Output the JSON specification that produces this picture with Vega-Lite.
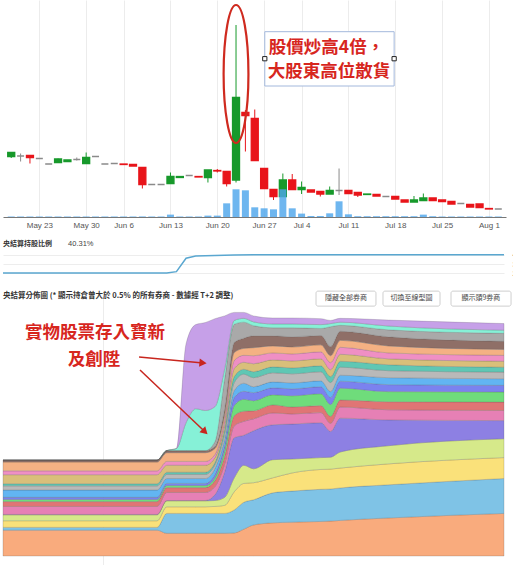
{
  "$schema": "https://vega.github.io/schema/vega-lite/v6.json",
  "padding": 0,
  "spacing": 0,
  "bounds": "flush",
  "resolve": {"scale": {"color": "independent", "stroke": "independent"}},
  "config": {"view": {"stroke": null}, "font": "Liberation Sans", "axis": {"labelFont": "Liberation Sans", "title": null}},
  "datasets": {
    "candles": [
      {"t":0,"date":"2022-05-18","o":0.151,"h":0.160,"l":0.148,"c":0.159,"v":0.7,"dir":"up"},
      {"t":1,"date":"2022-05-19","o":0.152,"h":0.157,"l":0.141,"c":0.152,"v":0.7,"dir":"flat"},
      {"t":2,"date":"2022-05-20","o":0.153,"h":0.153,"l":0.137,"c":0.149,"v":0.7,"dir":"down"},
      {"t":3,"date":"2022-05-23","o":0.147,"h":0.148,"l":0.146,"c":0.147,"v":0.7,"dir":"flat"},
      {"t":4,"date":"2022-05-24","o":0.136,"h":0.136,"l":0.136,"c":0.136,"v":0.7,"dir":"flat"},
      {"t":5,"date":"2022-05-25","o":0.139,"h":0.147,"l":0.139,"c":0.146,"v":0.7,"dir":"up"},
      {"t":6,"date":"2022-05-26","o":0.141,"h":0.144,"l":0.141,"c":0.144,"v":0.7,"dir":"up"},
      {"t":7,"date":"2022-05-27","o":0.145,"h":0.149,"l":0.143,"c":0.145,"v":0.7,"dir":"flat"},
      {"t":8,"date":"2022-05-30","o":0.137,"h":0.159,"l":0.137,"c":0.149,"v":0.7,"dir":"up"},
      {"t":9,"date":"2022-05-31","o":0.151,"h":0.151,"l":0.151,"c":0.151,"v":0.7,"dir":"flat"},
      {"t":10,"date":"2022-06-01","o":0.136,"h":0.136,"l":0.136,"c":0.136,"v":0.7,"dir":"flat"},
      {"t":11,"date":"2022-06-02","o":0.137,"h":0.137,"l":0.137,"c":0.137,"v":0.7,"dir":"flat"},
      {"t":12,"date":"2022-06-06","o":0.136,"h":0.136,"l":0.135,"c":0.135,"v":0.7,"dir":"down"},
      {"t":13,"date":"2022-06-07","o":0.135,"h":0.135,"l":0.132,"c":0.132,"v":0.7,"dir":"down"},
      {"t":14,"date":"2022-06-08","o":0.129,"h":0.129,"l":0.087,"c":0.095,"v":0.8,"dir":"down"},
      {"t":15,"date":"2022-06-09","o":0.095,"h":0.095,"l":0.095,"c":0.095,"v":0.7,"dir":"flat"},
      {"t":16,"date":"2022-06-10","o":0.095,"h":0.095,"l":0.095,"c":0.095,"v":0.7,"dir":"flat"},
      {"t":17,"date":"2022-06-13","o":0.097,"h":0.119,"l":0.097,"c":0.111,"v":3.3,"dir":"up"},
      {"t":18,"date":"2022-06-14","o":0.109,"h":0.111,"l":0.109,"c":0.111,"v":0.7,"dir":"up"},
      {"t":19,"date":"2022-06-15","o":0.113,"h":0.113,"l":0.113,"c":0.113,"v":0.7,"dir":"flat"},
      {"t":20,"date":"2022-06-16","o":0.111,"h":0.111,"l":0.110,"c":0.110,"v":0.7,"dir":"down"},
      {"t":21,"date":"2022-06-17","o":0.109,"h":0.124,"l":0.099,"c":0.124,"v":1.9,"dir":"up"},
      {"t":22,"date":"2022-06-20","o":0.123,"h":0.126,"l":0.119,"c":0.122,"v":1.9,"dir":"down"},
      {"t":23,"date":"2022-06-21","o":0.121,"h":0.121,"l":0.091,"c":0.097,"v":18.9,"dir":"down"},
      {"t":24,"date":"2022-06-22","o":0.104,"h":0.414,"l":0.099,"c":0.269,"v":38.3,"dir":"up"},
      {"t":25,"date":"2022-06-23","o":0.239,"h":0.244,"l":0.161,"c":0.233,"v":36.9,"dir":"down"},
      {"t":26,"date":"2022-06-24","o":0.227,"h":0.245,"l":0.143,"c":0.143,"v":13.4,"dir":"down"},
      {"t":27,"date":"2022-06-27","o":0.127,"h":0.127,"l":0.087,"c":0.087,"v":12.0,"dir":"down"},
      {"t":28,"date":"2022-06-28","o":0.085,"h":0.085,"l":0.064,"c":0.071,"v":10.6,"dir":"down"},
      {"t":29,"date":"2022-06-29","o":0.071,"h":0.117,"l":0.071,"c":0.104,"v":38.3,"dir":"up"},
      {"t":30,"date":"2022-06-30","o":0.104,"h":0.116,"l":0.085,"c":0.085,"v":12.0,"dir":"down"},
      {"t":31,"date":"2022-07-04","o":0.085,"h":0.101,"l":0.076,"c":0.089,"v":4.7,"dir":"up"},
      {"t":32,"date":"2022-07-05","o":0.084,"h":0.084,"l":0.080,"c":0.080,"v":1.4,"dir":"down"},
      {"t":33,"date":"2022-07-06","o":0.081,"h":0.081,"l":0.071,"c":0.076,"v":1.4,"dir":"down"},
      {"t":34,"date":"2022-07-07","o":0.076,"h":0.091,"l":0.076,"c":0.083,"v":5.1,"dir":"up"},
      {"t":35,"date":"2022-07-08","o":0.083,"h":0.127,"l":0.074,"c":0.083,"v":21.7,"dir":"flat"},
      {"t":36,"date":"2022-07-11","o":0.083,"h":0.083,"l":0.077,"c":0.077,"v":3.7,"dir":"down"},
      {"t":37,"date":"2022-07-12","o":0.079,"h":0.079,"l":0.070,"c":0.074,"v":1.1,"dir":"down"},
      {"t":38,"date":"2022-07-13","o":0.075,"h":0.076,"l":0.075,"c":0.076,"v":1.1,"dir":"up"},
      {"t":39,"date":"2022-07-14","o":0.075,"h":0.075,"l":0.072,"c":0.072,"v":1.1,"dir":"down"},
      {"t":40,"date":"2022-07-15","o":0.071,"h":0.071,"l":0.071,"c":0.071,"v":1.1,"dir":"flat"},
      {"t":41,"date":"2022-07-18","o":0.071,"h":0.071,"l":0.066,"c":0.066,"v":1.1,"dir":"down"},
      {"t":42,"date":"2022-07-19","o":0.064,"h":0.064,"l":0.060,"c":0.060,"v":1.1,"dir":"down"},
      {"t":43,"date":"2022-07-20","o":0.060,"h":0.072,"l":0.060,"c":0.064,"v":1.1,"dir":"up"},
      {"t":44,"date":"2022-07-21","o":0.063,"h":0.077,"l":0.063,"c":0.068,"v":3.3,"dir":"up"},
      {"t":45,"date":"2022-07-22","o":0.068,"h":0.068,"l":0.063,"c":0.063,"v":1.1,"dir":"down"},
      {"t":46,"date":"2022-07-25","o":0.064,"h":0.064,"l":0.061,"c":0.061,"v":0.7,"dir":"down"},
      {"t":47,"date":"2022-07-26","o":0.061,"h":0.061,"l":0.056,"c":0.056,"v":0.7,"dir":"down"},
      {"t":48,"date":"2022-07-27","o":0.057,"h":0.057,"l":0.057,"c":0.057,"v":0.7,"dir":"flat"},
      {"t":49,"date":"2022-07-28","o":0.055,"h":0.055,"l":0.050,"c":0.050,"v":0.7,"dir":"down"},
      {"t":50,"date":"2022-07-29","o":0.056,"h":0.056,"l":0.049,"c":0.049,"v":0.7,"dir":"down"},
      {"t":51,"date":"2022-08-01","o":0.047,"h":0.047,"l":0.046,"c":0.046,"v":0.7,"dir":"down"},
      {"t":52,"date":"2022-08-02","o":0.046,"h":0.046,"l":0.046,"c":0.046,"v":0.7,"dir":"flat"}
    ],
    "ellipse": [{"t":24,"p":0.316}],
    "box": [{"t":27.07,"t2":40.88,"p":0.4006,"p2":0.292}],
    "boxtext": [{"t":33.66,"p":0.368,"txt":"股價炒高4倍，"},{"t":33.92,"p":0.3206,"txt":"大股東高位散貨"}],
    "handles": [{"t":27.07,"p":0.3466},{"t":40.88,"p":0.3466}],
    "hold": [
      {"d":0,"pct":20.3},{"d":17,"pct":20.3},{"d":18,"pct":21.8},{"d":19,"pct":36.5},{"d":20,"pct":38.8},
      {"d":22,"pct":39.4},{"d":24,"pct":40.0},{"d":26,"pct":40.31},{"d":52,"pct":40.31}
    ],
    "holdlabel": [{"d":0,"pct":51.5,"txt":"央結算持股比例"}],
    "holdvalue": [{"d":6.75,"pct":51.5,"txt":"40.31%"}],
    "ccass": [
      {"d":0,"b":"b01","s":0.74},{"d":0,"b":"b02","s":0.08},{"d":0,"b":"b03","s":0.19},{"d":0,"b":"b04","s":0.17},{"d":0,"b":"b05","s":0.01},{"d":0,"b":"b06","s":0.23},{"d":0,"b":"b07","s":0.14},{"d":0,"b":"b08","s":0.06},{"d":0,"b":"b09","s":0.06},{"d":0,"b":"b10","s":0.21},{"d":0,"b":"b11","s":0.12},{"d":0,"b":"b12","s":0.06},{"d":0,"b":"b13","s":0.26},{"d":0,"b":"b14","s":0.11},{"d":0,"b":"b15","s":0.25},{"d":0,"b":"b16","s":0.06},{"d":0,"b":"b17","s":0},{"d":0,"b":"b18","s":0},{"d":0,"b":"b19","s":0},
      {"d":16,"b":"b01","s":0.74},{"d":16,"b":"b02","s":0.08},{"d":16,"b":"b03","s":0.19},{"d":16,"b":"b04","s":0.17},{"d":16,"b":"b05","s":0.01},{"d":16,"b":"b06","s":0.23},{"d":16,"b":"b07","s":0.14},{"d":16,"b":"b08","s":0.06},{"d":16,"b":"b09","s":0.06},{"d":16,"b":"b10","s":0.21},{"d":16,"b":"b11","s":0.12},{"d":16,"b":"b12","s":0.06},{"d":16,"b":"b13","s":0.26},{"d":16,"b":"b14","s":0.11},{"d":16,"b":"b15","s":0.25},{"d":16,"b":"b16","s":0.06},{"d":16,"b":"b17","s":0},{"d":16,"b":"b18","s":0},{"d":16,"b":"b19","s":0},
      {"d":17,"b":"b01","s":0.65},{"d":17,"b":"b02","s":0.57},{"d":17,"b":"b03","s":0.19},{"d":17,"b":"b04","s":0.17},{"d":17,"b":"b05","s":0.01},{"d":17,"b":"b06","s":0.23},{"d":17,"b":"b07","s":0.14},{"d":17,"b":"b08","s":0.06},{"d":17,"b":"b09","s":0.06},{"d":17,"b":"b10","s":0.14},{"d":17,"b":"b11","s":0.12},{"d":17,"b":"b12","s":0.06},{"d":17,"b":"b13","s":0.20},{"d":17,"b":"b14","s":0.11},{"d":17,"b":"b15","s":0.25},{"d":17,"b":"b16","s":0.06},{"d":17,"b":"b17","s":0},{"d":17,"b":"b18","s":0},{"d":17,"b":"b19","s":0},
      {"d":18,"b":"b01","s":0.65},{"d":18,"b":"b02","s":0.57},{"d":18,"b":"b03","s":0.19},{"d":18,"b":"b04","s":0.17},{"d":18,"b":"b05","s":0.01},{"d":18,"b":"b06","s":0.23},{"d":18,"b":"b07","s":0.14},{"d":18,"b":"b08","s":0.06},{"d":18,"b":"b09","s":0.06},{"d":18,"b":"b10","s":0.14},{"d":18,"b":"b11","s":0.12},{"d":18,"b":"b12","s":0.06},{"d":18,"b":"b13","s":0.20},{"d":18,"b":"b14","s":0.11},{"d":18,"b":"b15","s":0.25},{"d":18,"b":"b16","s":0.06},{"d":18,"b":"b17","s":0},{"d":18,"b":"b18","s":0.06},{"d":18,"b":"b19","s":0},
      {"d":19,"b":"b01","s":0.65},{"d":19,"b":"b02","s":0.57},{"d":19,"b":"b03","s":0.19},{"d":19,"b":"b04","s":0.17},{"d":19,"b":"b05","s":0.01},{"d":19,"b":"b06","s":0.23},{"d":19,"b":"b07","s":0.14},{"d":19,"b":"b08","s":0.06},{"d":19,"b":"b09","s":0.06},{"d":19,"b":"b10","s":0.14},{"d":19,"b":"b11","s":0.12},{"d":19,"b":"b12","s":0.06},{"d":19,"b":"b13","s":0.20},{"d":19,"b":"b14","s":0.11},{"d":19,"b":"b15","s":0.25},{"d":19,"b":"b16","s":0.06},{"d":19,"b":"b17","s":0},{"d":19,"b":"b18","s":0.80},{"d":19,"b":"b19","s":2.26},
      {"d":20,"b":"b01","s":0.65},{"d":20,"b":"b02","s":0.57},{"d":20,"b":"b03","s":0.19},{"d":20,"b":"b04","s":0.17},{"d":20,"b":"b05","s":0.01},{"d":20,"b":"b06","s":0.23},{"d":20,"b":"b07","s":0.14},{"d":20,"b":"b08","s":0.06},{"d":20,"b":"b09","s":0.06},{"d":20,"b":"b10","s":0.14},{"d":20,"b":"b11","s":0.12},{"d":20,"b":"b12","s":0.06},{"d":20,"b":"b13","s":0.20},{"d":20,"b":"b14","s":0.11},{"d":20,"b":"b15","s":0.25},{"d":20,"b":"b16","s":0.06},{"d":20,"b":"b17","s":0},{"d":20,"b":"b18","s":1.20},{"d":20,"b":"b19","s":2.41},
      {"d":21,"b":"b01","s":0.65},{"d":21,"b":"b02","s":0.57},{"d":21,"b":"b03","s":0.19},{"d":21,"b":"b04","s":0.17},{"d":21,"b":"b05","s":0.01},{"d":21,"b":"b06","s":0.23},{"d":21,"b":"b07","s":0.14},{"d":21,"b":"b08","s":0.06},{"d":21,"b":"b09","s":0.06},{"d":21,"b":"b10","s":0.14},{"d":21,"b":"b11","s":0.12},{"d":21,"b":"b12","s":0.06},{"d":21,"b":"b13","s":0.20},{"d":21,"b":"b14","s":0.11},{"d":21,"b":"b15","s":0.25},{"d":21,"b":"b16","s":0.06},{"d":21,"b":"b17","s":0},{"d":21,"b":"b18","s":1.15},{"d":21,"b":"b19","s":2.52},
      {"d":22,"b":"b01","s":0.65},{"d":22,"b":"b02","s":0.57},{"d":22,"b":"b03","s":0.20},{"d":22,"b":"b04","s":0.17},{"d":22,"b":"b05","s":0.17},{"d":22,"b":"b06","s":0.23},{"d":22,"b":"b07","s":0.17},{"d":22,"b":"b08","s":0.09},{"d":22,"b":"b09","s":0.09},{"d":22,"b":"b10","s":0.17},{"d":22,"b":"b11","s":0.11},{"d":22,"b":"b12","s":0.06},{"d":22,"b":"b13","s":0.14},{"d":22,"b":"b14","s":0.09},{"d":22,"b":"b15","s":0.17},{"d":22,"b":"b16","s":0.06},{"d":22,"b":"b17","s":0.14},{"d":22,"b":"b18","s":1.00},{"d":22,"b":"b19","s":2.52},
      {"d":23,"b":"b01","s":0.65},{"d":23,"b":"b02","s":0.57},{"d":23,"b":"b03","s":0.23},{"d":23,"b":"b04","s":0.23},{"d":23,"b":"b05","s":0.72},{"d":23,"b":"b06","s":0.23},{"d":23,"b":"b07","s":0.23},{"d":23,"b":"b08","s":0.17},{"d":23,"b":"b09","s":0.14},{"d":23,"b":"b10","s":0.17},{"d":23,"b":"b11","s":0.17},{"d":23,"b":"b12","s":0.11},{"d":23,"b":"b13","s":0.14},{"d":23,"b":"b14","s":0.14},{"d":23,"b":"b15","s":0.14},{"d":23,"b":"b16","s":0.17},{"d":23,"b":"b17","s":0.86},{"d":23,"b":"b18","s":0.29},{"d":23,"b":"b19","s":1.52},
      {"d":24,"b":"b01","s":0.66},{"d":24,"b":"b02","s":0.66},{"d":24,"b":"b03","s":0.52},{"d":24,"b":"b04","s":0.40},{"d":24,"b":"b05","s":1.15},{"d":24,"b":"b06","s":0.34},{"d":24,"b":"b07","s":0.29},{"d":24,"b":"b08","s":0.29},{"d":24,"b":"b09","s":0.23},{"d":24,"b":"b10","s":0.20},{"d":24,"b":"b11","s":0.23},{"d":24,"b":"b12","s":0.17},{"d":24,"b":"b13","s":0.23},{"d":24,"b":"b14","s":0.23},{"d":24,"b":"b15","s":0.23},{"d":24,"b":"b16","s":0.29},{"d":24,"b":"b17","s":0.52},{"d":24,"b":"b18","s":0.11},{"d":24,"b":"b19","s":0.23},
      {"d":25,"b":"b01","s":0.77},{"d":25,"b":"b02","s":0.77},{"d":25,"b":"b03","s":0.54},{"d":25,"b":"b04","s":0.52},{"d":25,"b":"b05","s":0.86},{"d":25,"b":"b06","s":0.40},{"d":25,"b":"b07","s":0.29},{"d":25,"b":"b08","s":0.34},{"d":25,"b":"b09","s":0.23},{"d":25,"b":"b10","s":0.23},{"d":25,"b":"b11","s":0.26},{"d":25,"b":"b12","s":0.14},{"d":25,"b":"b13","s":0.20},{"d":25,"b":"b14","s":0.20},{"d":25,"b":"b15","s":0.20},{"d":25,"b":"b16","s":0.29},{"d":25,"b":"b17","s":0.46},{"d":25,"b":"b18","s":0.11},{"d":25,"b":"b19","s":0.17},
      {"d":26,"b":"b01","s":0.89},{"d":26,"b":"b02","s":0.72},{"d":26,"b":"b03","s":0.49},{"d":26,"b":"b04","s":0.40},{"d":26,"b":"b05","s":1.09},{"d":26,"b":"b06","s":0.34},{"d":26,"b":"b07","s":0.23},{"d":26,"b":"b08","s":0.29},{"d":26,"b":"b09","s":0.23},{"d":26,"b":"b10","s":0.17},{"d":26,"b":"b11","s":0.26},{"d":26,"b":"b12","s":0.17},{"d":26,"b":"b13","s":0.23},{"d":26,"b":"b14","s":0.23},{"d":26,"b":"b15","s":0.23},{"d":26,"b":"b16","s":0.34},{"d":26,"b":"b17","s":0.29},{"d":26,"b":"b18","s":0.11},{"d":26,"b":"b19","s":0.17},
      {"d":28,"b":"b01","s":0.95},{"d":28,"b":"b02","s":0.86},{"d":28,"b":"b03","s":0.43},{"d":28,"b":"b04","s":0.52},{"d":28,"b":"b05","s":1.00},{"d":28,"b":"b06","s":0.34},{"d":28,"b":"b07","s":0.23},{"d":28,"b":"b08","s":0.29},{"d":28,"b":"b09","s":0.20},{"d":28,"b":"b10","s":0.17},{"d":28,"b":"b11","s":0.26},{"d":28,"b":"b12","s":0.17},{"d":28,"b":"b13","s":0.20},{"d":28,"b":"b14","s":0.20},{"d":28,"b":"b15","s":0.20},{"d":28,"b":"b16","s":0.29},{"d":28,"b":"b17","s":0.23},{"d":28,"b":"b18","s":0.11},{"d":28,"b":"b19","s":0.17},
      {"d":30,"b":"b01","s":0.97},{"d":30,"b":"b02","s":0.89},{"d":30,"b":"b03","s":0.52},{"d":30,"b":"b04","s":0.40},{"d":30,"b":"b05","s":1.00},{"d":30,"b":"b06","s":0.29},{"d":30,"b":"b07","s":0.20},{"d":30,"b":"b08","s":0.32},{"d":30,"b":"b09","s":0.20},{"d":30,"b":"b10","s":0.17},{"d":30,"b":"b11","s":0.26},{"d":30,"b":"b12","s":0.17},{"d":30,"b":"b13","s":0.20},{"d":30,"b":"b14","s":0.20},{"d":30,"b":"b15","s":0.20},{"d":30,"b":"b16","s":0.29},{"d":30,"b":"b17","s":0.26},{"d":30,"b":"b18","s":0.11},{"d":30,"b":"b19","s":0.17},
      {"d":33,"b":"b01","s":0.99},{"d":33,"b":"b02","s":0.92},{"d":33,"b":"b03","s":0.57},{"d":33,"b":"b04","s":0.34},{"d":33,"b":"b05","s":1.00},{"d":33,"b":"b06","s":0.29},{"d":33,"b":"b07","s":0.20},{"d":33,"b":"b08","s":0.34},{"d":33,"b":"b09","s":0.20},{"d":33,"b":"b10","s":0.17},{"d":33,"b":"b11","s":0.26},{"d":33,"b":"b12","s":0.17},{"d":33,"b":"b13","s":0.20},{"d":33,"b":"b14","s":0.20},{"d":33,"b":"b15","s":0.20},{"d":33,"b":"b16","s":0.27},{"d":33,"b":"b17","s":0.20},{"d":33,"b":"b18","s":0.11},{"d":33,"b":"b19","s":0.17},
      {"d":34,"b":"b01","s":1.00},{"d":34,"b":"b02","s":0.92},{"d":34,"b":"b03","s":0.57},{"d":34,"b":"b04","s":0.34},{"d":34,"b":"b05","s":0.74},{"d":34,"b":"b06","s":0.23},{"d":34,"b":"b07","s":0.20},{"d":34,"b":"b08","s":0.34},{"d":34,"b":"b09","s":0.20},{"d":34,"b":"b10","s":0.17},{"d":34,"b":"b11","s":0.26},{"d":34,"b":"b12","s":0.17},{"d":34,"b":"b13","s":0.20},{"d":34,"b":"b14","s":0.20},{"d":34,"b":"b15","s":0.20},{"d":34,"b":"b16","s":0.26},{"d":34,"b":"b17","s":0.57},{"d":34,"b":"b18","s":0.09},{"d":34,"b":"b19","s":0.09},
      {"d":35,"b":"b01","s":1.02},{"d":35,"b":"b02","s":0.93},{"d":35,"b":"b03","s":0.57},{"d":35,"b":"b04","s":0.46},{"d":35,"b":"b05","s":0.97},{"d":35,"b":"b06","s":0.32},{"d":35,"b":"b07","s":0.20},{"d":35,"b":"b08","s":0.34},{"d":35,"b":"b09","s":0.20},{"d":35,"b":"b10","s":0.17},{"d":35,"b":"b11","s":0.23},{"d":35,"b":"b12","s":0.17},{"d":35,"b":"b13","s":0.20},{"d":35,"b":"b14","s":0.20},{"d":35,"b":"b15","s":0.20},{"d":35,"b":"b16","s":0.26},{"d":35,"b":"b17","s":0.17},{"d":35,"b":"b18","s":0.09},{"d":35,"b":"b19","s":0.11},
      {"d":40,"b":"b01","s":1.09},{"d":40,"b":"b02","s":0.95},{"d":40,"b":"b03","s":0.60},{"d":40,"b":"b04","s":0.52},{"d":40,"b":"b05","s":0.74},{"d":40,"b":"b06","s":0.29},{"d":40,"b":"b07","s":0.23},{"d":40,"b":"b08","s":0.29},{"d":40,"b":"b09","s":0.20},{"d":40,"b":"b10","s":0.20},{"d":40,"b":"b11","s":0.20},{"d":40,"b":"b12","s":0.17},{"d":40,"b":"b13","s":0.17},{"d":40,"b":"b14","s":0.17},{"d":40,"b":"b15","s":0.20},{"d":40,"b":"b16","s":0.26},{"d":40,"b":"b17","s":0.20},{"d":40,"b":"b18","s":0.11},{"d":40,"b":"b19","s":0.17},
      {"d":52,"b":"b01","s":1.22},{"d":52,"b":"b02","s":1.00},{"d":52,"b":"b03","s":0.60},{"d":52,"b":"b04","s":0.54},{"d":52,"b":"b05","s":0.52},{"d":52,"b":"b06","s":0.29},{"d":52,"b":"b07","s":0.24},{"d":52,"b":"b08","s":0.29},{"d":52,"b":"b09","s":0.19},{"d":52,"b":"b10","s":0.19},{"d":52,"b":"b11","s":0.19},{"d":52,"b":"b12","s":0.14},{"d":52,"b":"b13","s":0.17},{"d":52,"b":"b14","s":0.17},{"d":52,"b":"b15","s":0.17},{"d":52,"b":"b16","s":0.23},{"d":52,"b":"b17","s":0.23},{"d":52,"b":"b18","s":0.09},{"d":52,"b":"b19","s":0.19}
    ],
    "ccasstitle": [{"d":0,"s":7.45,"txt":"央結算分佈圖 (* 顯示持倉曾大於 0.5% 的所有券商 - 數據經 T+2 調整)"}],
    "buttons": [
      {"d":32.49,"d2":38.71,"s":7.59,"s2":7.16,"dc":35.6,"sc":7.38,"txt":"隱藏全部券商"},
      {"d":39.44,"d2":45.36,"s":7.59,"s2":7.16,"dc":42.4,"sc":7.38,"txt":"切換至線型圖"},
      {"d":46.5,"d2":52.73,"s":7.59,"s2":7.16,"dc":49.6,"sc":7.38,"txt":"顯示頭9券商"}
    ],
    "note": [{"d":9.55,"s":6.38,"txt":"實物股票存入寶新"},{"d":9.45,"s":5.62,"txt":"及創陞"}],
    "arrow1": [{"d":14.12,"d2":20.76,"s":5.70,"s2":5.53}],
    "arrow2": [{"d":14.22,"d2":20.96,"s":5.33,"s2":3.56}]
  },
  "vconcat": [
    {
      "width": 503,
      "height": 217,
      "encoding": {
        "x": {"field": "t", "type": "quantitative", "scale": {"domain": [-0.345, 52.29], "nice": false, "zero": false},
          "axis": {"orient": "bottom", "values": [3,8,12,17,22,27,31,36,41,46,51],
            "labelExpr": "['May 23','May 30','Jun 6','Jun 13','Jun 20','Jun 27','Jul 4','Jul 11','Jul 18','Jul 25','Aug 1'][indexof([3,8,12,17,22,27,31,36,41,46,51], datum.value)]",
            "grid": true, "gridColor": "#ececec", "ticks": false, "domainColor": "#777", "labelFontSize": 8, "labelColor": "#555", "labelPadding": 4, "title": null}}
      },
      "layer": [
        {
          "layer": [
            {
              "data": {"name": "candles"},
              "mark": {"type": "rule", "strokeWidth": 1},
              "encoding": {
                "y": {"field": "l", "type": "quantitative", "scale": {"domain": [0.03, 0.464], "nice": false, "zero": false},
                  "axis": {"orient": "right", "values": [0.05,0.1,0.15,0.2,0.25,0.3,0.35,0.4], "format": ".2f", "grid": true, "gridColor": "#f0f0f0", "ticks": false, "domain": false, "labelFontSize": 8, "labelColor": "#555", "labelPadding": 2, "labelBaseline": "middle", "title": null}},
                "y2": {"field": "h"},
                "color": {"field": "dir", "type": "nominal", "scale": {"domain": ["up","down","flat"], "range": ["#17992b","#e8141a","#8a8a8a"]}, "legend": null}
              }
            },
            {
              "data": {"name": "candles"},
              "mark": {"type": "bar", "width": 7, "strokeWidth": 1.3},
              "encoding": {
                "y": {"field": "o", "type": "quantitative", "axis": null},
                "y2": {"field": "c"},
                "color": {"field": "dir", "type": "nominal", "legend": null},
                "stroke": {"field": "dir", "type": "nominal", "scale": {"domain": ["up","down","flat"], "range": ["#17992b","#e8141a","#8a8a8a"]}, "legend": null}
              }
            },
            {
              "data": {"name": "ellipse"},
              "mark": {"type": "point", "shape": "M0,-1C0.099,-1 0.18,-0.552 0.18,0C0.18,0.552 0.099,1 0,1C-0.099,1 -0.18,0.552 -0.18,0C-0.18,-0.552 -0.099,-1 0,-1Z", "size": 19044, "filled": false, "stroke": "#cf2a1f", "strokeWidth": 2.2, "opacity": 1},
              "encoding": {"y": {"field": "p", "type": "quantitative", "axis": null}}
            },
            {
              "data": {"name": "box"},
              "mark": {"type": "rect", "fill": "white", "stroke": "#a3b8dc", "strokeWidth": 1},
              "encoding": {"x2": {"field": "t2"}, "y": {"field": "p", "type": "quantitative", "axis": null}, "y2": {"field": "p2"}}
            },
            {
              "data": {"name": "boxtext"},
              "mark": {"type": "text", "font": "Noto Sans CJK TC", "fontWeight": "bold", "fontSize": 17.5, "color": "#d7261e", "align": "center", "baseline": "middle"},
              "encoding": {"y": {"field": "p", "type": "quantitative", "axis": null}, "text": {"field": "txt"}}
            },
            {
              "data": {"name": "handles"},
              "mark": {"type": "point", "shape": "square", "size": 18, "filled": true, "fill": "white", "stroke": "#222", "strokeWidth": 1, "opacity": 1},
              "encoding": {"y": {"field": "p", "type": "quantitative", "axis": null}}
            }
          ]
        },
        {
          "data": {"name": "candles"},
          "mark": {"type": "bar", "width": 7, "color": "#4ea6ec", "opacity": 0.82},
          "encoding": {
            "y": {"field": "v", "type": "quantitative", "scale": {"domain": [0, 300], "nice": false}, "axis": null}
          }
        }
      ],
      "resolve": {"scale": {"y": "independent"}}
    },
    {
      "width": 501,
      "height": 73,
      "encoding": {
        "x": {"field": "d", "type": "quantitative", "scale": {"domain": [0, 52], "nice": false, "zero": false}, "axis": null},
        "y": {"field": "pct", "type": "quantitative", "scale": {"domain": [1.75, 81.5], "nice": false, "zero": false},
          "axis": {"orient": "right", "values": [20, 30, 40], "labelExpr": "datum.value + '%'", "grid": true, "gridColor": "#ededed", "ticks": false, "domain": false, "labelFontSize": 7, "labelColor": "#444", "labelPadding": 8, "title": null}}
      },
      "layer": [
        {"data": {"name": "hold"}, "mark": {"type": "line", "color": "#5aa7d0", "strokeWidth": 1.5}},
        {"data": {"name": "holdlabel"}, "mark": {"type": "text", "align": "left", "baseline": "middle", "font": "Noto Sans CJK TC", "fontWeight": "bold", "fontSize": 7, "color": "#333"}, "encoding": {"text": {"field": "txt"}}},
        {"data": {"name": "holdvalue"}, "mark": {"type": "text", "align": "left", "baseline": "middle", "fontSize": 7.5, "color": "#444"}, "encoding": {"text": {"field": "txt"}}}
      ]
    },
    {
      "width": 501,
      "height": 275,
      "encoding": {
        "x": {"field": "d", "type": "quantitative", "scale": {"domain": [0, 52], "nice": false, "zero": false},
          "axis": {"values": [10.4], "labels": false, "ticks": false, "domain": false, "grid": true, "gridColor": "#ececec", "title": null}}
      },
      "layer": [
        {
          "data": {"name": "ccass"},
          "mark": {"type": "area", "interpolate": "monotone", "stroke": "#555", "strokeWidth": 0.5, "strokeOpacity": 0.45},
          "encoding": {
            "y": {"field": "s", "type": "quantitative", "stack": "zero", "scale": {"domain": [-0.258, 7.622], "nice": false, "zero": false},
              "axis": {"orient": "right", "values": [1,2,3,4,5,6,7], "grid": false, "ticks": false, "domain": false, "labelFontSize": 7, "labelColor": "#444", "labelPadding": 10, "title": null}},
            "color": {"field": "b", "type": "nominal", "legend": null,
              "scale": {"domain": ["b01","b02","b03","b04","b05","b06","b07","b08","b09","b10","b11","b12","b13","b14","b15","b16","b17","b18","b19"],
                "range": ["#f9ab7d","#7fc3e6","#fae17a","#d6e98a","#8d80e3","#e680b5","#e07575","#6fdc7b","#7b82ef","#62b5f2","#b9b9b9","#5fc7b4","#d9bf7a","#ef8fc4","#f4b183","#8f6f67","#a9a9a9","#86f1d7","#c6a0e8"]}},
            "order": {"field": "b", "sort": "ascending"}
          }
        },
        {
          "data": {"name": "ccasstitle"},
          "mark": {"type": "text", "align": "left", "baseline": "middle", "font": "Noto Sans CJK TC", "fontWeight": "bold", "fontSize": 7.5, "color": "#333"},
          "encoding": {"y": {"field": "s", "type": "quantitative", "axis": null}, "text": {"field": "txt"}}
        },
        {
          "data": {"name": "buttons"},
          "mark": {"type": "rect", "fill": "white", "stroke": "#cfcfcf", "strokeWidth": 1, "cornerRadius": 2},
          "encoding": {"x2": {"field": "d2"}, "y": {"field": "s", "type": "quantitative", "axis": null}, "y2": {"field": "s2"}}
        },
        {
          "data": {"name": "buttons"},
          "mark": {"type": "text", "align": "center", "baseline": "middle", "font": "Noto Sans CJK TC", "fontSize": 7, "color": "#444"},
          "encoding": {"x": {"field": "dc", "type": "quantitative"}, "y": {"field": "sc", "type": "quantitative", "axis": null}, "text": {"field": "txt"}}
        },
        {
          "data": {"name": "note"},
          "mark": {"type": "text", "align": "center", "baseline": "middle", "font": "Noto Sans CJK TC", "fontWeight": "bold", "fontSize": 17.5, "color": "#d7261e"},
          "encoding": {"y": {"field": "s", "type": "quantitative", "axis": null}, "text": {"field": "txt"}}
        },
        {
          "data": {"name": "arrow1"},
          "mark": {"type": "rule", "color": "#c8261e", "strokeWidth": 1.5},
          "encoding": {"x2": {"field": "d2"}, "y": {"field": "s", "type": "quantitative", "axis": null}, "y2": {"field": "s2"}}
        },
        {
          "data": {"name": "arrow1"},
          "mark": {"type": "point", "shape": "triangle-right", "size": 70, "filled": true, "color": "#c8261e", "opacity": 1, "angle": 5},
          "encoding": {"x": {"field": "d2", "type": "quantitative"}, "y": {"field": "s2", "type": "quantitative", "axis": null}}
        },
        {
          "data": {"name": "arrow2"},
          "mark": {"type": "rule", "color": "#c8261e", "strokeWidth": 1.5},
          "encoding": {"x2": {"field": "d2"}, "y": {"field": "s", "type": "quantitative", "axis": null}, "y2": {"field": "s2"}}
        },
        {
          "data": {"name": "arrow2"},
          "mark": {"type": "point", "shape": "triangle-right", "size": 70, "filled": true, "color": "#c8261e", "opacity": 1, "angle": 44},
          "encoding": {"x": {"field": "d2", "type": "quantitative"}, "y": {"field": "s2", "type": "quantitative", "axis": null}}
        }
      ]
    }
  ]
}
